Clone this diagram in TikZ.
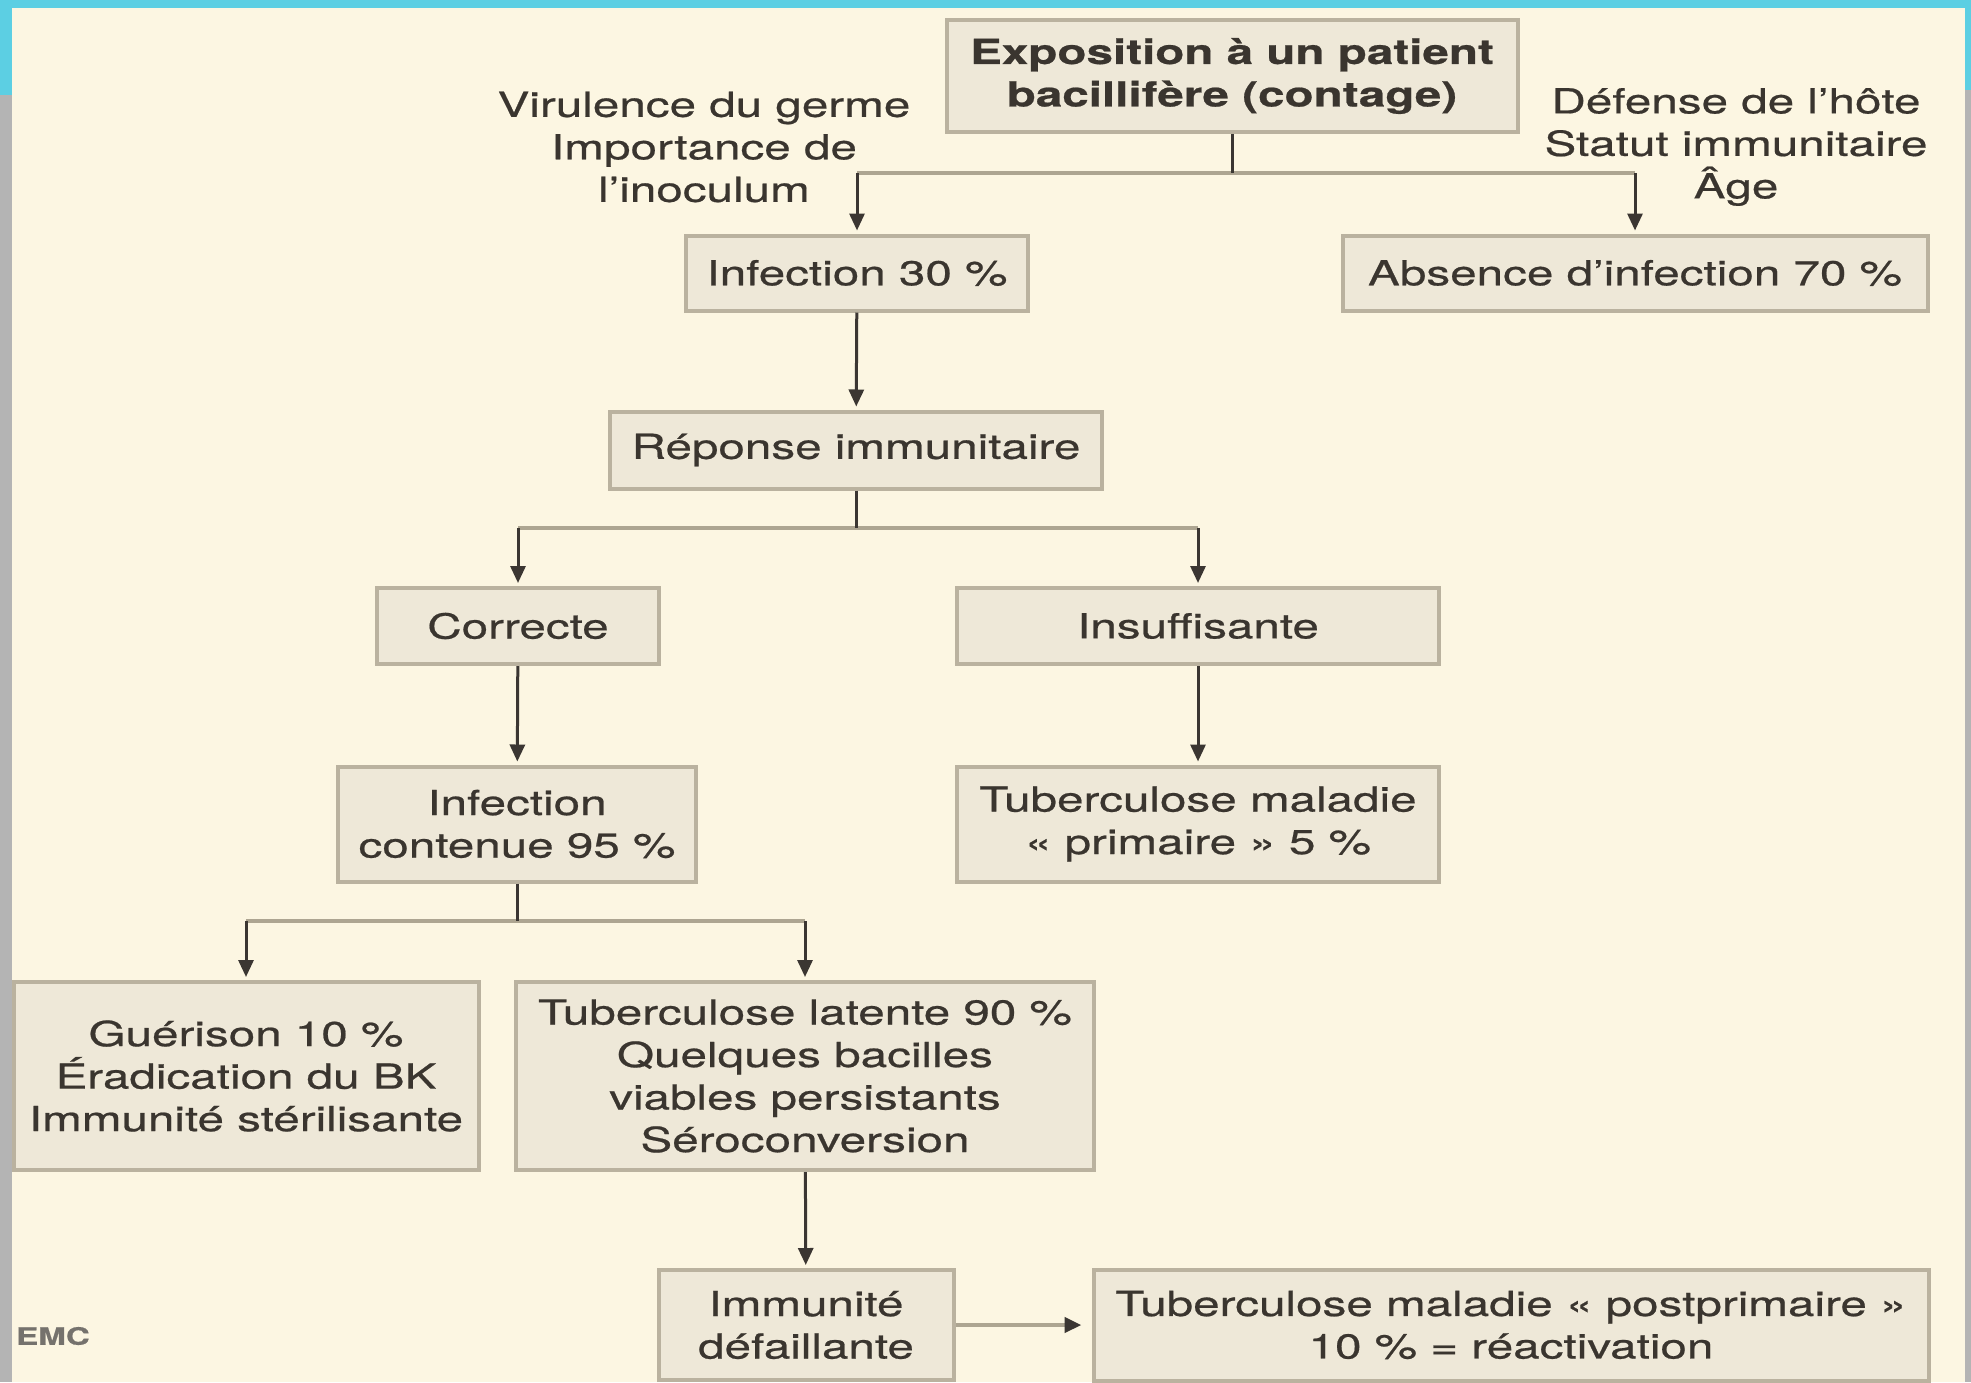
\documentclass[tikz,border=0pt]{standalone}
\usepackage{fontspec}
\setmainfont{TeX Gyre Heros}[FakeStretch=1.38,FakeBold=0.6]
\usetikzlibrary{arrows.meta}
\definecolor{bgcream}{HTML}{FCF6E2}
\definecolor{boxfill}{HTML}{EEE8D8}
\definecolor{boxline}{HTML}{BAB29F}
\definecolor{txtcol}{HTML}{3A352F}
\definecolor{linecol}{HTML}{3B3632}
\definecolor{hlinecol}{HTML}{ADA591}
\definecolor{framecyan}{HTML}{5CCFE3}
\definecolor{framegray}{HTML}{B4B4B4}
\newcommand\diafont{\fontsize{34.5}{42.5}\selectfont}
\tikzstyle{box} = [draw=boxline, line width=4pt, fill=boxfill, align=center, inner sep=0pt, text=txtcol, font=\diafont]
\tikzstyle{lbl} = [align=center, text=txtcol, font=\diafont]
\tikzstyle{vline} = [draw=linecol, line width=3pt]
\tikzstyle{hline} = [draw=hlinecol, line width=4.5pt]
\tikzstyle{arr} = [vline, -{Triangle[length=17pt,width=15pt]}, shorten >=3pt]

\begin{document}
\begin{tikzpicture}[x=1pt,y=-1pt]
    \useasboundingbox (0,0) rectangle (1971,1382);
    \clip (0,0) rectangle (1971,1382);
    \fill[bgcream] (0,0) rectangle (1971,1382);
    \fill[framegray] (0,0) rectangle (12,1382);
    \fill[framegray] (1965,0) rectangle (1971,1382);
    \fill[framecyan] (0,0) rectangle (1971,8);
    \fill[framecyan] (0,0) rectangle (12,95);
    \fill[framecyan] (1965,0) rectangle (1971,90);
    \node[box,minimum width=571pt,minimum height=112pt,font={\diafont\bfseries}](0) at (1232,76){Exposition à un patient\\bacillifère (contage)};
    \node[lbl](1) at (704,147){Virulence du germe\\Importance de\\l'inoculum};
    \node[lbl](2) at (1736,147){Défense de l'hôte\\Statut immunitaire\\Âge};
    \node[box,minimum width=342pt,minimum height=75pt](3) at (857,273){Infection 30 \%};
    \node[box,minimum width=585pt,minimum height=75pt](4) at (1635,273){Absence d'infection 70 \%};
    \node[box,minimum width=492pt,minimum height=77pt](5) at (856,450){Réponse immunitaire};
    \node[box,minimum width=282pt,minimum height=76pt](6) at (518,626){Correcte};
    \node[box,minimum width=482pt,minimum height=76pt](7) at (1198,626){Insuffisante};
    \node[box,minimum width=358pt,minimum height=115pt](8) at (517,824){Infection\\contenue 95 \%};
    \node[box,minimum width=482pt,minimum height=115pt](9) at (1198,824){Tuberculose maladie\\« primaire » 5 \%};
    \node[box,minimum width=465pt,minimum height=188pt](10) at (246,1076){Guérison 10 \%\\Éradication du BK\\Immunité stérilisante};
    \node[box,minimum width=578pt,minimum height=188pt](11) at (805,1076){Tuberculose latente 90 \%\\Quelques bacilles\\viables persistants\\Séroconversion};
    \node[box,minimum width=295pt,minimum height=110pt](12) at (806,1325){Immunité\\défaillante};
    \node[box,minimum width=835pt,minimum height=111pt](13) at (1511,1325){Tuberculose maladie « postprimaire »\\10 \% = réactivation};
    \node[text=txtcol!70,font={\fontsize{24}{24}\selectfont\bfseries}](14) at (53,1336){EMC};
    % branches
    \coordinate (j0) at (1232,173);
    \coordinate (j1) at (856,528);
    \coordinate (j2) at (517,921);
    \draw[hline] (3.north |- j0) -- (4.north |- j0);
    \draw[hline] (6.north |- j1) -- (7.north |- j1);
    \draw[hline] (10.north |- j2) -- (11.north |- j2);
    \draw[vline] (0.south) -- (j0);
    \draw[vline] (5.south) -- (j1);
    \draw[vline] (8.south) -- (j2);
    \draw[arr] (3.north |- j0) -- (3);
    \draw[arr] (4.north |- j0) -- (4);
    \draw[arr] (3) -- (5);
    \draw[arr] (6.north |- j1) -- (6);
    \draw[arr] (7.north |- j1) -- (7);
    \draw[arr] (6) -- (8);
    \draw[arr] (7) -- (9);
    \draw[arr] (10.north |- j2) -- (10);
    \draw[arr] (11.north |- j2) -- (11);
    \draw[arr] (11) -- (12);
    \draw[hline,-{Triangle[length=17pt,width=15pt,color=linecol]},shorten >=10pt] (12) -- (13);
  \end{tikzpicture}
\end{document}
